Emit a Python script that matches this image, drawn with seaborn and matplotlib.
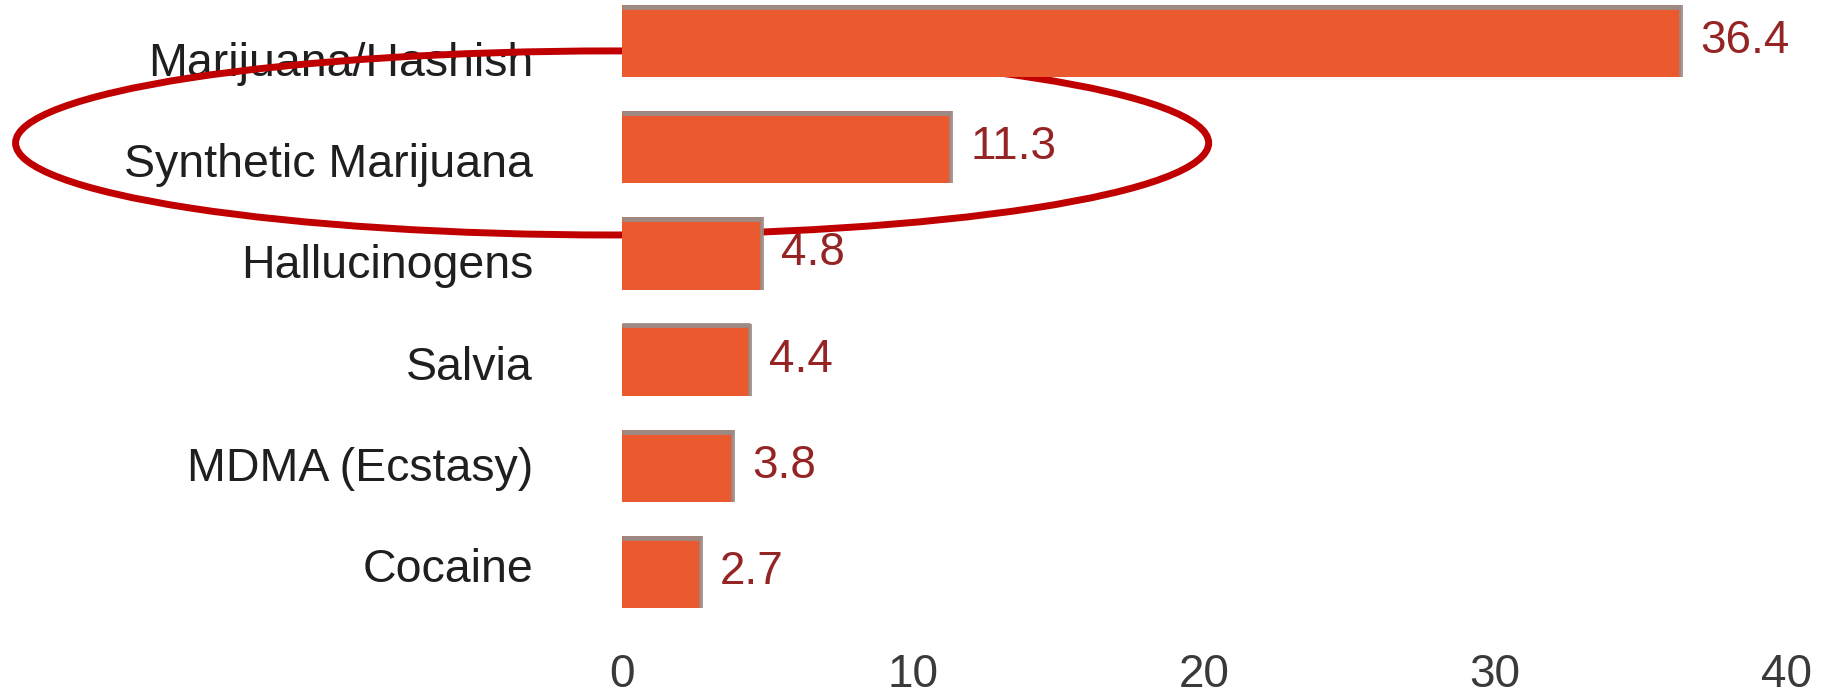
import matplotlib
matplotlib.use("Agg")
import matplotlib.pyplot as plt
from matplotlib.patches import Ellipse
import seaborn as sns
import pandas as pd

# Survey results: past-year use (%) by substance
substances = ["Marijuana/Hashish", "Synthetic Marijuana", "Hallucinogens",
              "Salvia", "MDMA (Ecstasy)", "Cocaine"]
percent = [36.4, 11.3, 4.8, 4.4, 3.8, 2.7]
x_ticks = [0, 10, 20, 30, 40]

df = pd.DataFrame({"substance": substances, "percent": percent})

sns.set_theme(style="white")
plt.rcParams["font.family"] = ["Liberation Sans", "DejaVu Sans"]

BAR = "#EB5A2F"
EDGE = "#9C8A84"
VALUE = "#952424"
HIGHLIGHT = "#C00000"

fig = plt.figure(figsize=(18.24, 6.98), dpi=100)
ax = fig.add_axes([622 / 1824, 53 / 698, 1164 / 1824, 645 / 698])

sns.barplot(data=df, x="percent", y="substance", orient="h", color=BAR,
            saturation=1, width=0.68, edgecolor="none", ax=ax)

# shaded top and right rims on each bar
for p in ax.patches:
    x0, y0, w, h = p.get_x(), p.get_y(), p.get_width(), p.get_height()
    top = min(y0, y0 + h)
    ax.plot([x0, x0 + w], [top + 0.018, top + 0.018], color=EDGE, lw=3.4,
            solid_capstyle="butt", zorder=1.2)
    ax.plot([x0 + w, x0 + w], [y0, y0 + h], color=EDGE, lw=2.8,
            solid_capstyle="butt", zorder=1.2, alpha=0.9)

# value labels at the bar ends
for i, v in enumerate(percent):
    ax.annotate(f"{v}", xy=(v, i), xytext=(14, 0), textcoords="offset points",
                va="center", ha="left", fontsize=33, color=VALUE, zorder=0.7)

ax.set_xlim(0, 40)
ax.set_ylim(5.687, -0.386)
ax.set_xticks(x_ticks)
ax.set_xticklabels([str(t) for t in x_ticks])
ax.set_yticks([0.17 + 0.953 * i for i in range(len(substances))])
ax.set_yticklabels(substances)
ax.tick_params(axis="y", length=0, pad=64, labelsize=33.5, labelcolor="#1f1f1f")
ax.tick_params(axis="x", length=0, pad=6, labelsize=33, labelcolor="#3a3a3a")
ax.set_xlabel("")
ax.set_ylabel("")
sns.despine(ax=ax, left=True, bottom=True)
ax.grid(False)

# hand-drawn ring around the synthetic marijuana row
ring = Ellipse((-0.34, 0.96), 41.0, 1.733, fill=False, edgecolor=HIGHLIGHT,
               lw=5, zorder=0.8, clip_on=False)
ax.add_patch(ring)

fig.savefig("out.png", dpi=100)
